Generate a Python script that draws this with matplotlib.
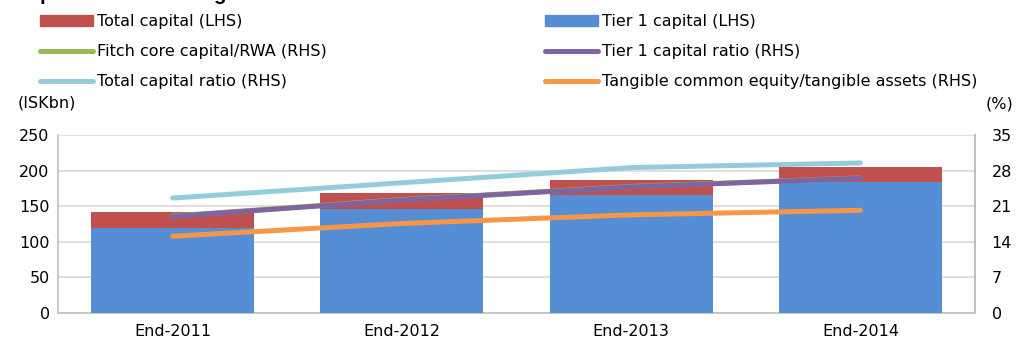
import matplotlib
matplotlib.use("Agg")
import matplotlib.pyplot as plt
from matplotlib.lines import Line2D
from matplotlib.patches import Patch

plt.rcParams['font.family'] = ['DejaVu Sans']

categories = ["End-2011", "End-2012", "End-2013", "End-2014"]
total_capital = [142, 169, 187, 205]
tier1_capital = [120, 146, 166, 184]
fitch_core = [19.08, 22.28, 24.87, 26.55]
tier1_ratio = [19.0, 22.2, 24.8, 26.5]
total_ratio = [22.6, 25.6, 28.6, 29.5]
tce_ratio = [15.1, 17.6, 19.3, 20.2]

left_ticks = [0, 50, 100, 150, 200, 250]
right_ticks = [0, 7, 14, 21, 28, 35]

c_red = "#C0504D"
c_blue = "#558ED5"
c_green = "#9BBB59"
c_purple = "#8064A2"
c_cyan = "#93CDDD"
c_orange = "#F79646"
grid_c = "#D9D9D9"
spine_c = "#BFBFBF"

fs = 11.5
fig = plt.figure(figsize=(10.25, 3.47), dpi=100)
ax = fig.add_axes([58/1025, 1-313/347, (975-58)/1025, (313-135)/347])
x = list(range(len(categories)))

ax.bar(x, total_capital, width=0.71, color=c_red, zorder=2)
ax.bar(x, tier1_capital, width=0.71, color=c_blue, zorder=3)
ax.set_ylim(0, 250)
ax.set_yticks(left_ticks)
ax.set_xlim(-0.5, 3.5)
ax.set_xticks(x)
ax.set_xticklabels(categories)
ax.yaxis.grid(True, color=grid_c, linewidth=1.2, zorder=0)
ax.set_axisbelow(True)
ax.spines['top'].set_visible(False)
for s in ['left', 'bottom', 'right']:
    ax.spines[s].set_color(spine_c)
    ax.spines[s].set_linewidth(1.2)
ax.tick_params(axis='both', length=0, labelsize=fs, pad=6)
ax.tick_params(axis='x', pad=8)

ax2 = ax.twinx()
ax2.set_ylim(0, 35)
ax2.set_yticks(right_ticks)
ax2.tick_params(axis='y', length=0, labelsize=fs, pad=12)
for s in ['top', 'left', 'bottom']:
    ax2.spines[s].set_visible(False)
ax2.spines['right'].set_color(spine_c)
ax2.spines['right'].set_linewidth(1.2)

lw = 3.6
ax2.plot(x, total_ratio, color=c_cyan, lw=lw, solid_capstyle='round')
ax2.plot(x, fitch_core, color=c_green, lw=lw, solid_capstyle='round')
ax2.plot(x, tier1_ratio, color=c_purple, lw=lw, solid_capstyle='round')
ax2.plot(x, tce_ratio, color=c_orange, lw=lw, solid_capstyle='round')

def line_handle(c):
    return Line2D([], [], color=c, lw=lw, solid_capstyle='round')

leg_kw = dict(loc='upper left', frameon=False, fontsize=fs, handlelength=3.3,
              handletextpad=0.25, labelspacing=0.95, borderaxespad=0, borderpad=0)
leg1 = fig.legend([Patch(color=c_red), line_handle(c_green), line_handle(c_cyan)],
                  ["Total capital (LHS)", "Fitch core capital/RWA (RHS)", "Total capital ratio (RHS)"],
                  bbox_to_anchor=(40/1025, 1-14/347), **leg_kw)
leg2 = fig.legend([Patch(color=c_blue), line_handle(c_purple), line_handle(c_orange)],
                  ["Tier 1 capital (LHS)", "Tier 1 capital ratio (RHS)",
                   "Tangible common equity/tangible assets (RHS)"],
                  bbox_to_anchor=(545/1025, 1-14/347), **leg_kw)

fig.text(18/1025, 1-103/347, "(ISKbn)", fontsize=fs, va='center', ha='left')
fig.text(1013/1025, 1-104/347, "(%)", fontsize=fs, va='center', ha='right')
fig.text(14/1025, 1+0.5/347, "Capital of the banking sector", fontsize=14.7, fontweight='bold',
         family=['Liberation Sans', 'DejaVu Sans'], va='baseline', ha='left')

fig.savefig("out.png", dpi=100)
